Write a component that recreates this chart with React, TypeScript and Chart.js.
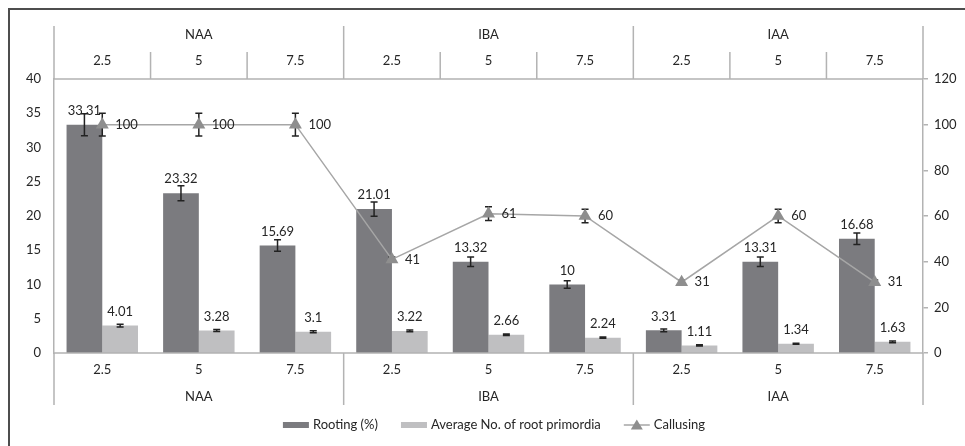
import React, { useEffect, useRef } from "react";
import { Chart, registerables } from "chart.js";

Chart.register(...registerables);

// Concentrations (mg/L) per auxin, and auxin groups
const categories = ["2.5", "5", "7.5", "2.5", "5", "7.5", "2.5", "5", "7.5"];
const groups = ["NAA", "IBA", "IAA"];

// Rooting (%) — left axis
const rooting = [33.31, 23.32, 15.69, 21.01, 13.32, 10, 3.31, 13.31, 16.68];
const rootingErr = [1.6, 1.1, 0.85, 1.05, 0.7, 0.55, 0.2, 0.7, 0.85];

// Average number of root primordia — left axis
const primordia = [4.01, 3.28, 3.1, 3.22, 2.66, 2.24, 1.11, 1.34, 1.63];
const primordiaErr = [0.2, 0.15, 0.15, 0.12, 0.1, 0.1, 0.08, 0.08, 0.12];

// Callusing (%) — right axis
const callusing = [100, 100, 100, 41, 61, 60, 31, 60, 31];
const callusingErr = [5, 5, 5, 1, 3, 3, 1, 3, 1];

const leftMax = 40;
const leftStep = 5;
const rightMax = 120;
const rightStep = 20;

const FONT = "Lato, 'Open Sans', sans-serif";
const TEXT = "#262626";
const RULE = "#b3b3b3";
const DARK = "#7b7b7f";
const LIGHT = "#bfbfc1";
const LINE = "#a6a6a6";
const MARK = "#8e8e8e";

const W = 965;
const H = 446;

function drawErrors(chart: any, idx: number, vals: number[], err: number[], scale: any) {
  const ctx = chart.ctx;
  ctx.save();
  ctx.strokeStyle = "#222";
  ctx.lineWidth = 1.5;
  chart.getDatasetMeta(idx).data.forEach((el: any, i: number) => {
    const cx = el.x;
    const yHi = scale.getPixelForValue(vals[i] + err[i]);
    const yLo = scale.getPixelForValue(vals[i] - err[i]);
    ctx.beginPath();
    ctx.moveTo(cx, yHi);
    ctx.lineTo(cx, yLo);
    ctx.moveTo(cx - 3.5, yHi);
    ctx.lineTo(cx + 3.5, yHi);
    ctx.moveTo(cx - 3.5, yLo);
    ctx.lineTo(cx + 3.5, yLo);
    ctx.stroke();
  });
  ctx.restore();
}

const decorPlugin = {
  id: "decor",
  beforeDraw(chart: any) {
    const ctx = chart.ctx;
    ctx.save();
    ctx.strokeStyle = "#4d4d4d";
    ctx.lineWidth = 2;
    ctx.beginPath();
    ctx.moveTo(9, H);
    ctx.lineTo(9, 9);
    ctx.lineTo(W, 9);
    ctx.stroke();
    ctx.restore();
  },
  beforeDatasetDraw(chart: any, args: any) {
    // callusing whiskers sit beneath the line and its markers
    if (args.index === 2) {
      drawErrors(chart, 2, callusing, callusingErr, chart.scales.y1);
    }
  },
  afterDatasetDraw(chart: any, args: any) {
    if (args.index === 0) drawErrors(chart, 0, rooting, rootingErr, chart.scales.y);
    if (args.index === 1) drawErrors(chart, 1, primordia, primordiaErr, chart.scales.y);
  },
  afterDatasetsDraw(chart: any) {
    const ctx = chart.ctx;
    const { left, right, top, bottom } = chart.chartArea;
    const x = chart.scales.x;
    const yL = chart.scales.y;
    const n = categories.length;
    const step = (right - left) / n;

    ctx.save();

    // value labels
    ctx.fillStyle = TEXT;
    ctx.font = `13px ${FONT}`;
    ctx.textBaseline = "middle";
    ctx.textAlign = "center";
    [0, 1].forEach((idx) => {
      const vals = idx === 0 ? rooting : primordia;
      chart.getDatasetMeta(idx).data.forEach((el: any, i: number) => {
        ctx.fillText(String(vals[i]), el.x, yL.getPixelForValue(vals[i]) - 14);
      });
    });
    ctx.textAlign = "left";
    chart.getDatasetMeta(2).data.forEach((el: any, i: number) => {
      ctx.fillText(String(callusing[i]), el.x + 13, el.y);
    });

    // category frame lines
    ctx.strokeStyle = RULE;
    ctx.lineWidth = 1.5;
    const headTop = 26;
    const headMid = 52;
    const footEnd = 405;
    ctx.beginPath();
    ctx.moveTo(left, top);
    ctx.lineTo(right, top);
    ctx.moveTo(left, bottom);
    ctx.lineTo(right, bottom);
    for (let k = 0; k <= n; k++) {
      const bx = left + k * step;
      if (k % 3 === 0) {
        ctx.moveTo(bx, headTop);
        ctx.lineTo(bx, top);
        ctx.moveTo(bx, bottom);
        ctx.lineTo(bx, footEnd);
      } else {
        ctx.moveTo(bx, headMid);
        ctx.lineTo(bx, top);
      }
    }
    ctx.stroke();

    // category labels above and below the plot
    ctx.fillStyle = TEXT;
    ctx.textAlign = "center";
    categories.forEach((c, i) => {
      const cx = x.getPixelForValue(i);
      ctx.fillText(c, cx, 61);
      ctx.fillText(c, cx, 370);
    });
    groups.forEach((g, gi) => {
      const cx = left + (gi * 3 + 1.5) * step;
      ctx.fillText(g, cx, 35);
      ctx.fillText(g, cx, 397);
    });

    // legend
    const items = [
      { kind: "box", color: DARK, label: "Rooting (%)" },
      { kind: "box", color: LIGHT, label: "Average No. of root primordia" },
      { kind: "line", color: LINE, label: "Callusing" },
    ];
    const sym = 26;
    const gapSym = 4;
    const gapItem = 23;
    const widths = items.map((it) => sym + gapSym + ctx.measureText(it.label).width);
    const total = widths.reduce((a, b) => a + b, 0) + gapItem * (items.length - 1);
    let lx = 494 - total / 2;
    const ly = 425;
    items.forEach((it, i) => {
      if (it.kind === "box") {
        ctx.fillStyle = it.color;
        ctx.fillRect(lx, ly - 3, sym, 6);
      } else {
        ctx.strokeStyle = it.color;
        ctx.lineWidth = 1.5;
        ctx.beginPath();
        ctx.moveTo(lx, ly);
        ctx.lineTo(lx + sym, ly);
        ctx.stroke();
        ctx.fillStyle = MARK;
        const tx = lx + sym / 2;
        ctx.beginPath();
        ctx.moveTo(tx, ly - 5.5);
        ctx.lineTo(tx + 6, ly + 4.5);
        ctx.lineTo(tx - 6, ly + 4.5);
        ctx.closePath();
        ctx.fill();
      }
      ctx.fillStyle = TEXT;
      ctx.textAlign = "left";
      ctx.fillText(it.label, lx + sym + gapSym, ly);
      lx += widths[i] + gapItem;
    });

    ctx.restore();
  },
};

export default function App() {
  const ref = useRef<HTMLCanvasElement | null>(null);

  useEffect(() => {
    if (!ref.current) return;
    const chart = new Chart(ref.current, {
      type: "bar",
      data: {
        labels: categories,
        datasets: [
          {
            type: "bar",
            label: "Rooting (%)",
            data: rooting,
            backgroundColor: DARK,
            yAxisID: "y",
            order: 2,
          },
          {
            type: "bar",
            label: "Average No. of root primordia",
            data: primordia,
            backgroundColor: LIGHT,
            yAxisID: "y",
            order: 2,
          },
          {
            type: "line",
            label: "Callusing",
            data: callusing,
            borderColor: LINE,
            borderWidth: 1.5,
            pointStyle: "triangle",
            pointRadius: 7.5,
            pointBackgroundColor: MARK,
            pointBorderColor: MARK,
            pointBorderWidth: 0,
            tension: 0,
            yAxisID: "y1",
            order: 1,
          } as any,
        ],
      },
      options: {
        responsive: false,
        animation: false,
        layout: { padding: { left: 0, right: 0, top: 79, bottom: 93 } },
        datasets: {
          bar: { categoryPercentage: 0.74, barPercentage: 1 },
        } as any,
        plugins: {
          legend: { display: false },
          tooltip: { enabled: false },
        },
        scales: {
          x: { display: false, offset: true },
          y: {
            position: "left",
            min: 0,
            max: leftMax,
            afterFit: (s: any) => {
              s.width = 54;
            },
            ticks: {
              stepSize: leftStep,
              color: TEXT,
              font: { family: FONT, size: 13 },
              padding: 13,
            },
            grid: { display: false, drawTicks: false },
            border: { display: true, color: RULE, width: 1.5 },
          },
          y1: {
            position: "right",
            min: 0,
            max: rightMax,
            afterFit: (s: any) => {
              s.width = W - 923;
            },
            ticks: {
              stepSize: rightStep,
              color: TEXT,
              font: { family: FONT, size: 13 },
              padding: 6,
            },
            grid: {
              display: true,
              drawOnChartArea: false,
              drawTicks: true,
              tickLength: 5,
              color: RULE,
              lineWidth: 1.5,
            },
            border: { display: true, color: RULE, width: 1.5 },
          },
        },
      },
      plugins: [decorPlugin],
    });
    return () => chart.destroy();
  }, []);

  return (
    <div style={{ position: "absolute", left: 0, top: 0, width: W, height: H, background: "#fff" }}>
      <canvas ref={ref} width={W} height={H} style={{ display: "block" }} />
    </div>
  );
}
